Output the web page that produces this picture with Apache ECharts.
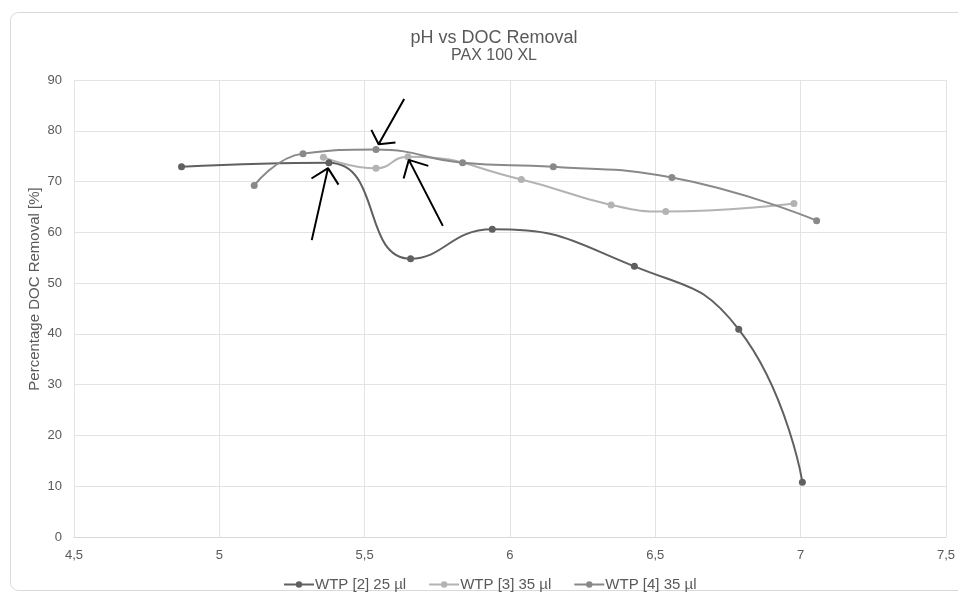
<!DOCTYPE html>
<html>
<head>
<meta charset="utf-8">
<script src="https://cdn.jsdelivr.net/npm/echarts@6/dist/echarts.min.js"></script>
<style>html,body{margin:0;padding:0;background:#fff;}#c{width:958px;height:597px;}</style>
</head>
<body>
<div id="c"></div>
<script>
const titleText = 'pH vs DOC Removal';
const subtitleText = 'PAX 100 XL';
const yAxisName = 'Percentage DOC Removal [%]';
const seriesNames = ['WTP [2] 25 µl', 'WTP [3] 35 µl', 'WTP [4] 35 µl'];

const wtp2_pH = [4.87, 5.377, 5.658, 5.939, 6.428, 6.787, 7.006];
const wtp2_doc = [72.9, 73.7, 54.8, 60.6, 53.3, 40.9, 10.8];

const wtp3_pH = [5.358, 5.539, 5.649, 6.039, 6.348, 6.536, 6.977];
const wtp3_doc = [74.8, 72.6, 74.9, 70.4, 65.4, 64.1, 65.7];

const wtp4_pH = [5.12, 5.288, 5.539, 5.837, 6.149, 6.557, 7.055];
const wtp4_doc = [69.2, 75.5, 76.3, 73.7, 72.9, 70.8, 62.3];

// Hand-drawn arrow annotations, in data units: [x, y] pairs per stroke
const arrowStrokes = [
  [[5.318, 58.46], [5.374, 72.64]], [[5.317, 70.6], [5.374, 72.64], [5.410, 69.4]],
  [[5.636, 86.28], [5.548, 77.36]], [[5.523, 80.18], [5.548, 77.36], [5.606, 77.68]],
  [[5.769, 61.28], [5.652, 74.27]], [[5.634, 70.59], [5.652, 74.27], [5.719, 73.09]]
];

const colors = ['#606060', '#b3b3b3', '#898989'];
const zip = (xs, ys) => xs.map((x, i) => [x, ys[i]]);
const arrowData = [];
arrowStrokes.forEach((s, i) => { if (i) arrowData.push([null, null]); s.forEach(p => arrowData.push(p)); });

const chart = echarts.init(document.getElementById('c'));
const fmt = v => String(v).replace('.', ',');
const mkSeries = (name, data, color) => ({
  name, type: 'line', data, smooth: 0.5,
  symbol: 'circle', symbolSize: 7,
  lineStyle: { color, width: 2 }, itemStyle: { color },
  z: 3
});
chart.setOption({
  animation: false,
  textStyle: { fontFamily: 'Liberation Sans, Arial, sans-serif' },
  graphic: [{
    type: 'rect', shape: { x: 10.5, y: 12.5, width: 970, height: 578, r: 8 },
    style: { fill: 'none', stroke: '#d9d9d9', lineWidth: 1 }, z: -1
  }, {
    type: 'text', x: 35, y: 289, rotation: Math.PI / 2,
    style: { text: yAxisName, fontSize: 15, fill: '#595959', align: 'center', verticalAlign: 'middle',
             fontFamily: 'Liberation Sans, Arial, sans-serif' }
  }],
  title: {
    text: titleText, subtext: subtitleText, left: 489, textAlign: 'center', top: 24, itemGap: 1,
    textStyle: { fontSize: 18, fontWeight: 'normal', color: '#595959' },
    subtextStyle: { fontSize: 16, color: '#595959' }
  },
  legend: {
    data: seriesNames, top: 572, left: 278, itemWidth: 30, itemHeight: 8, itemGap: 22,
    textStyle: { fontSize: 15, color: '#595959', padding: [0, 0, 0, -4] }
  },
  grid: { left: 74, right: 10, top: 80, bottom: 60 },
  xAxis: {
    type: 'value', min: 4.5, max: 7.5, interval: 0.5,
    axisLine: { show: true, lineStyle: { color: '#d9d9d9' } },
    axisTick: { show: false },
    axisLabel: { formatter: fmt, color: '#595959', fontSize: 13, margin: 12 },
    splitLine: { show: true, lineStyle: { color: '#e3e3e3' } }
  },
  yAxis: {
    type: 'value', min: 0, max: 90, interval: 10,
    axisLine: { show: false }, axisTick: { show: false },
    axisLabel: { color: '#595959', fontSize: 13, margin: 12 },
    splitLine: { lineStyle: { color: '#e3e3e3' } }
  },
  series: [
    mkSeries(seriesNames[0], zip(wtp2_pH, wtp2_doc), colors[0]),
    mkSeries(seriesNames[1], zip(wtp3_pH, wtp3_doc), colors[1]),
    mkSeries(seriesNames[2], zip(wtp4_pH, wtp4_doc), colors[2]),
    {
      name: 'arrows', type: 'line', data: arrowData, connectNulls: false,
      symbol: 'none', smooth: false, silent: true,
      lineStyle: { color: '#000', width: 2 }, z: 5
    }
  ]
});
</script>
</body>
</html>
